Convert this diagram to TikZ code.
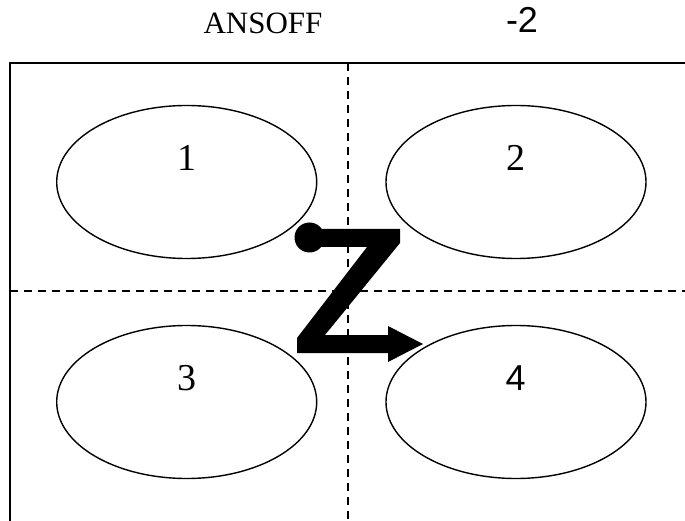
\documentclass[tikz,border=0pt]{standalone}
\usepackage{fontspec}
\setmainfont{Liberation Serif}
\newfontfamily\arialish{Liberation Sans}
\usetikzlibrary{shapes.geometric}
\begin{document}
\begin{tikzpicture}[x=1pt,y=-1pt,
  oval/.style={draw,line width=1.4pt,ellipse,inner sep=0pt,minimum width=260pt,minimum height=153pt},
  frameline/.style={line width=2pt},
  gridline/.style={line width=1.3pt,dash pattern=on 8pt off 6pt},
  numlabel/.style={anchor=base,inner sep=0pt,font=\fontsize{38}{40}\selectfont},
  titlelabel/.style={anchor=base,inner sep=0pt,font=\fontsize{31}{34}\selectfont}]
\useasboundingbox (0,0) rectangle (685,521);
% frame
\coordinate (tl) at (10,63);
\coordinate (tr) at (685,63);
\coordinate (bl) at (10,521);
\coordinate (vt) at (348,63);
\coordinate (vb) at (348,521);
\coordinate (hl) at (10,291);
\coordinate (hr) at (685,291);
\draw[frameline] (tr) -- (tl) -- (bl);
\draw[gridline] (vt) -- (vb);
\draw[gridline] (hl) -- (hr);
% title
\node[titlelabel] (title) at (263,33.3) {ANSOFF};
\node[anchor=base,inner sep=0pt,font=\arialish\fontsize{36}{38}\selectfont] (num) at (522,32.3) {-2};
% ellipses
\node[oval] (e1) at (186.7,182) {};
\node[oval] (e2) at (516,182) {};
\node[oval] (e3) at (186.7,402) {};
\node[oval] (e4) at (516,402) {};
\node[numlabel] (l1) at (186.7,171) {1};
\node[numlabel] (l2) at (515.7,171) {2};
\node[numlabel] (l3) at (186.7,390) {3};
\node[numlabel,font=\arialish\fontsize{36}{38}\selectfont] (l4) at (515.7,390) {4};
% Z arrow
\coordinate (zdot) at (309.5,237.5);
\fill (zdot) circle (15);
\fill (309,229) -- (400,229) -- (400,243) -- (325,335) -- (388,335) -- (388,326)
  -- (423,344) -- (388,362) -- (388,353) -- (297,353) -- (297,338)
  -- (367,247) -- (309,247) -- cycle;
\end{tikzpicture}
\end{document}
